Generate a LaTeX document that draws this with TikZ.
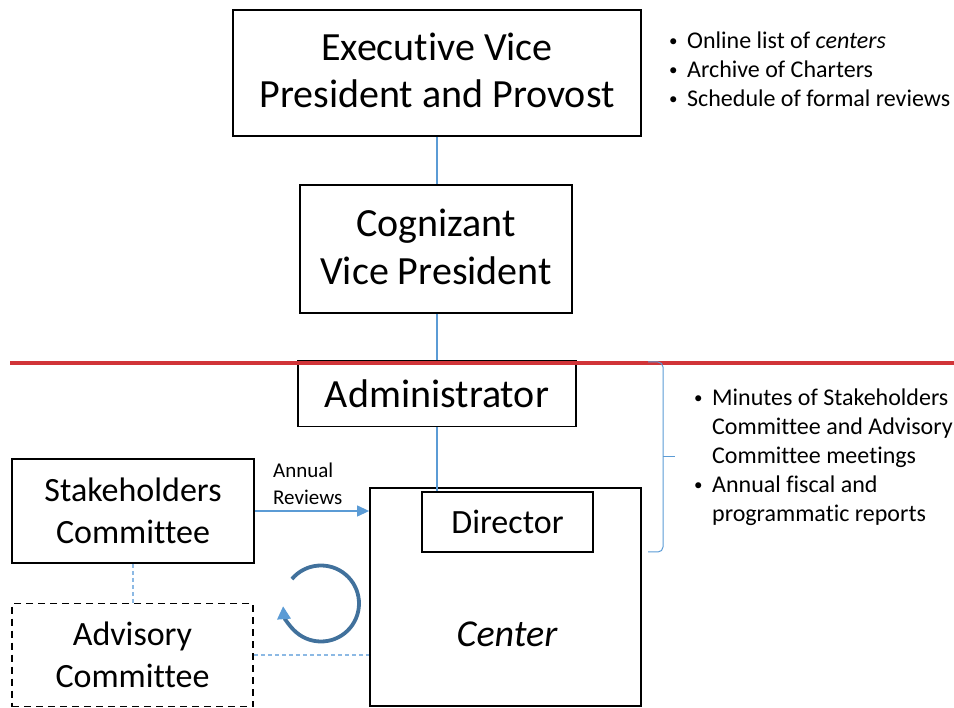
\documentclass[tikz,border=0pt]{standalone}
\usepackage{fontspec}
\setmainfont{Carlito}[Ligatures=NoCommon]
\usetikzlibrary{arrows.meta}
\definecolor{lnblue}{RGB}{91,155,213}
\definecolor{dashblue}{RGB}{140,185,228}
\definecolor{circblue}{RGB}{65,113,156}
\definecolor{redline}{RGB}{209,52,56}
\newcommand{\smbullet}{\raisebox{2pt}{\fontsize{17}{17}\selectfont\textbullet}}
\begin{document}
\begin{tikzpicture}[x=1pt,y=-1pt,
  box/.style={draw=black, line width=1.8pt, align=center, inner sep=0pt},
  bigtext/.style={font=\fontsize{40}{48}\selectfont},
  midtext/.style={font=\fontsize{34}{42}\selectfont},
  conn/.style={draw=lnblue, line width=1.2pt},
  dconn/.style={draw=dashblue, line width=1.2pt, dash pattern=on 4pt off 3pt},
  listtext/.style={font=\fontsize{24}{29}\selectfont, inner sep=0pt, anchor=north west}]
\useasboundingbox (0,0) rectangle (954,708);

% boxes
\node[box, minimum width=408pt, minimum height=126pt] (evp) at (437,73) {};
\node[font=\fontsize{40}{47}\selectfont, align=center, inner sep=0pt] (evpt) at (437,70) {Executive Vice\\President and Provost};
\node[box, minimum width=272pt, minimum height=128pt] (cvp) at (436,249) {};
\node[bigtext, align=center, inner sep=0pt] (cvpt) at (436,247) {Cognizant\\Vice President};
\node[box, bigtext, minimum width=278pt, minimum height=66pt] (adm) at (437,393.5) {Administrator};
\node[box, minimum width=271pt, minimum height=218pt] (ctr) at (505.5,597) {};
\node[font=\fontsize{38}{46}\selectfont\itshape, inner sep=0pt] (ctrlbl) at (507,634) {Center};
\node[box, midtext, fill=white, minimum width=171pt, minimum height=60pt] (dir) at (507.5,522) {Director};
\node[box, midtext, minimum width=242pt, minimum height=104pt] (stk) at (133,511) {Stakeholders\\Committee};
\node[box, midtext, dash pattern=on 7pt off 5pt, minimum width=241pt, minimum height=103pt] (adv) at (132.5,655) {Advisory\\Committee};

% connectors
\draw[conn] (evp.south) -- (evp.south |- cvp.north);
\draw[conn] (evp.south |- cvp.south) -- (evp.south |- adm.north);
\draw[conn] (adm.south) -- (adm.south |- dir.north);
\draw[conn, -{Triangle[length=12pt,width=11pt]}] (stk.east) -- (stk.east -| ctr.west);
\draw[dconn] (stk.south) -- (stk.south |- adv.north);
\draw[dconn] (adv.east) -- (adv.east -| ctr.west);

% label of annual reviews
\node[font=\fontsize{21}{27}\selectfont, inner sep=0pt, anchor=north west] (lbl) at (273,458) {\begin{tabular}{@{}l@{}}Annual\\Reviews\end{tabular}};

% red line
\draw[redline, line width=4pt] (10,363) -- (954,363);

% circular arrow
\begin{scope}[shift={(321,603.5)}, x=1pt, y=1pt]
  \draw[circblue, line width=3.8pt, -{Triangle[length=13pt,width=13pt,color=lnblue]}] (140:38) arc[start angle=140, end angle=-176, radius=38];
\end{scope}

% bracket
\draw[lnblue, line width=1pt, rounded corners=5pt] (648,362) -- (663,362) -- (663,552) -- (648,552);
\draw[lnblue, line width=1pt] (663,457) -- (675,457);

% lists
\node[listtext] (toplist) at (669,27.7) {\begin{tabular}{@{}p{18pt}@{}l@{}}
\smbullet & Online list of \textit{centers}\\
\smbullet & Archive of Charters\\
\smbullet & Schedule of formal reviews
\end{tabular}};
\node[listtext] (botlist) at (694,384.7) {\begin{tabular}{@{}p{18pt}@{}l@{}}
\smbullet & Minutes of Stakeholders\\
 & Committee and Advisory\\
 & Committee meetings\\
\smbullet & Annual fiscal and\\
 & programmatic reports
\end{tabular}};
\end{tikzpicture}
\end{document}
